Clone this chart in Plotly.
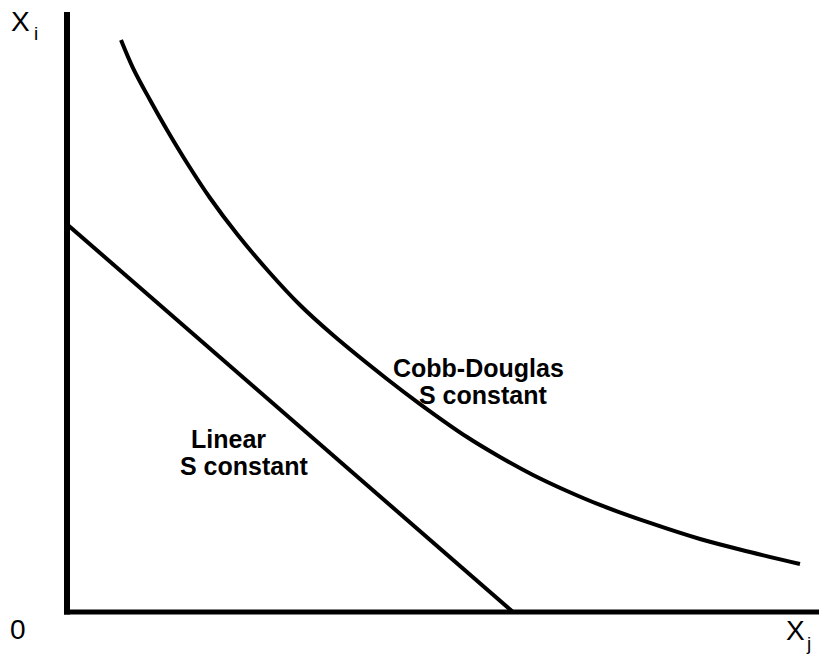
import plotly.graph_objects as go

# Cobb-Douglas isoquant (S constant)
cd_x = [0.718, 0.878, 1.104, 1.330, 1.596, 1.902, 2.261, 2.699, 3.098, 3.537, 4.255,
        4.694, 5.319, 5.758, 6.197, 6.649, 7.088, 7.753, 8.418, 9.082, 9.747]
cd_y = [7.627, 7.253, 6.827, 6.427, 5.987, 5.520, 5.040, 4.520, 4.093, 3.693, 3.107,
        2.773, 2.333, 2.067, 1.827, 1.613, 1.427, 1.187, 0.973, 0.800, 0.640]

# Linear isoquant (S constant)
lin_x = [0.0, 5.93]
lin_y = [5.17, 0.0]

x_range = [0, 10]
y_range = [0, 8]

FONT = "Liberation Sans"

fig = go.Figure()
fig.add_trace(go.Scatter(x=cd_x, y=cd_y, mode="lines",
                         line=dict(color="black", width=4, shape="spline", smoothing=1.0),
                         showlegend=False, hoverinfo="skip"))
fig.add_trace(go.Scatter(x=lin_x, y=lin_y, mode="lines",
                         line=dict(color="black", width=4),
                         showlegend=False, hoverinfo="skip"))

W, H = 819, 660
L, R, T, B = 67, 0, 12, 48
pw, ph = W - L - R, H - T - B


def px(xp):
    return (xp - L) / pw


def py(yp):
    return (H - B - yp) / ph


def dx(xp):
    return (xp - L) / pw * (x_range[1] - x_range[0])


def dy(yp):
    return (H - B - yp) / ph * (y_range[1] - y_range[0])


def ann(text, x, y, size, bold=False, ref="paper"):
    t = f"<b>{text}</b>" if bold else text
    r = ("paper", "paper") if ref == "paper" else ("x", "y")
    return dict(text=t, x=x, y=y, xref=r[0], yref=r[1], showarrow=False,
                xanchor="center", yanchor="middle",
                font=dict(family=FONT, size=size, color="black"))


annotations = [
    ann("X", px(20), py(21), 28),
    ann("i", px(36), py(34), 19),
    ann("0", px(18), py(629), 28),
    ann("X", px(795), py(630), 28),
    ann("j", px(808), py(643), 19),
    ann("Cobb-Douglas", dx(478), dy(368), 25, bold=True, ref="data"),
    ann("S constant", dx(483), dy(395), 25, bold=True, ref="data"),
    ann("Linear", dx(228), dy(439), 25, bold=True, ref="data"),
    ann("S constant", dx(244), dy(466), 25, bold=True, ref="data"),
]

shapes = [
    dict(type="line", xref="paper", yref="paper", x0=0, x1=0, y0=-0.004, y1=1,
         line=dict(color="black", width=6), layer="above"),
    dict(type="line", xref="paper", yref="paper", x0=-0.004, x1=1, y0=0, y1=0,
         line=dict(color="black", width=5), layer="above"),
]

fig.update_layout(
    width=W, height=H,
    margin=dict(l=L, r=R, t=T, b=B, pad=0),
    paper_bgcolor="white", plot_bgcolor="white",
    xaxis=dict(range=x_range, showgrid=False, zeroline=False, showticklabels=False,
               ticks="", showline=False, fixedrange=True),
    yaxis=dict(range=y_range, showgrid=False, zeroline=False, showticklabels=False,
               ticks="", showline=False, fixedrange=True),
    annotations=annotations,
    shapes=shapes,
    showlegend=False,
)

fig.write_html("out.html", config={"displayModeBar": False},
               post_script="document.body.style.margin='0';")
